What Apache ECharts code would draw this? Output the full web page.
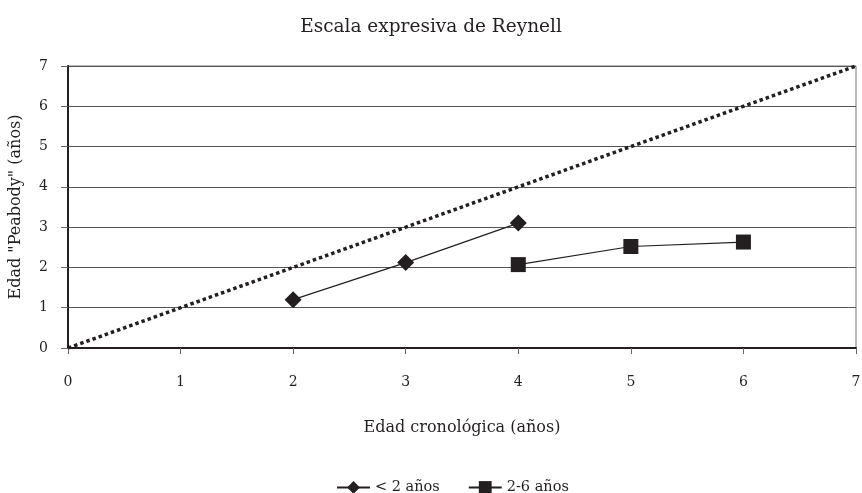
<!DOCTYPE html>
<html>
<head>
<meta charset="utf-8">
<script src="https://cdn.jsdelivr.net/npm/echarts@6/dist/echarts.min.js"></script>
<style>
  html, body { margin: 0; padding: 0; background: #fff; }
  #chart { width: 862px; height: 493px; }
</style>
</head>
<body>
<div id="chart"></div>
<script>
// datos
const menores2 = [[2, 1.2], [3, 2.12], [4, 3.1]];
const de2a6 = [[4, 2.07], [5, 2.52], [6, 2.63]];
const referencia = [[0, 0], [7, 7]];

const ink = '#231f20';
const font = 'DejaVu Serif';

const chart = echarts.init(document.getElementById('chart'));

const option = {
    animation: false,
    textStyle: { fontFamily: font, color: ink },
    title: {
        text: 'Escala expresiva de Reynell',
        left: 'center',
        top: 13,
        textStyle: { fontFamily: font, fontSize: 18.5, fontWeight: 'normal', color: ink }
    },
    grid: {
        left: 68, right: 6, top: 66, bottom: 145,
        outerBoundsMode: 'none',
        containLabel: false,
        show: true, borderColor: '#777', borderWidth: 1
    },
    legend: {
        top: 480,
        left: 336,
        itemWidth: 33,
        itemHeight: 16,
        itemGap: 28,
        padding: 0,
        textStyle: { fontFamily: font, fontSize: 14.5, color: ink },
        data: ['< 2 años', '2-6 años']
    },
    xAxis: {
        type: 'value',
        min: 0, max: 7, interval: 1,
        name: 'Edad cronológica (años)',
        nameLocation: 'middle',
        nameGap: 72,
        nameTextStyle: { fontFamily: font, fontSize: 16, color: ink },
        axisLine: { lineStyle: { color: ink, width: 2 } },
        axisTick: { show: true, length: 6, lineStyle: { color: '#666' } },
        axisLabel: { fontFamily: font, fontSize: 14, color: ink, margin: 27 },
        splitLine: { show: false }
    },
    yAxis: {
        type: 'value',
        min: 0, max: 7, interval: 1,
        name: 'Edad "Peabody" (años)',
        nameLocation: 'middle',
        nameGap: 44,
        nameTextStyle: { fontFamily: font, fontSize: 16, color: ink },
        axisLine: { show: true, lineStyle: { color: ink, width: 2 } },
        axisTick: { show: true, length: 7, lineStyle: { color: '#666' } },
        axisLabel: { fontFamily: font, fontSize: 14, color: ink, margin: 20 },
        splitLine: { show: true, lineStyle: { color: '#555', width: 1 } }
    },
    series: [
        {
            name: 'referencia',
            type: 'line',
            data: referencia,
            symbol: 'none',
            silent: true,
            lineStyle: { color: ink, width: 3.5, type: [3.5, 3] },
            z: 1
        },
        {
            name: '< 2 años',
            type: 'line',
            data: menores2,
            symbol: 'diamond',
            symbolSize: 17,
            itemStyle: { color: ink },
            lineStyle: { color: ink, width: 1.2 }
        },
        {
            name: '2-6 años',
            type: 'line',
            data: de2a6,
            symbol: 'rect',
            symbolSize: 15,
            itemStyle: { color: ink },
            lineStyle: { color: ink, width: 1.2 }
        }
    ]
};

chart.setOption(option);
</script>
</body>
</html>
